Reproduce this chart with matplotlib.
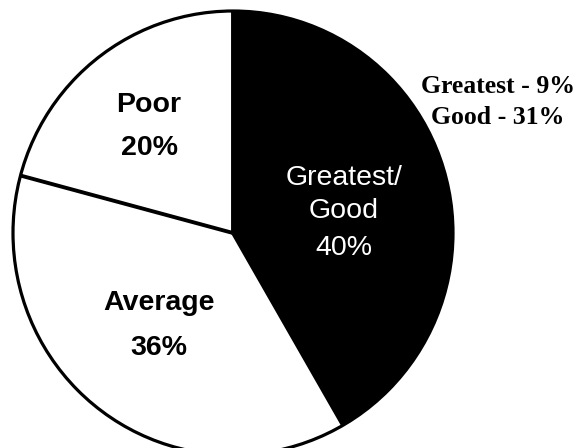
import numpy as np
import matplotlib
matplotlib.use("Agg")
import matplotlib.pyplot as plt
from matplotlib.patches import Circle

# Data (clockwise from 12 o'clock)
categories = ["Greatest/\nGood", "Average", "Poor"]
values = [40, 36, 20]
colors = ["black", "white", "white"]
text_colors = ["white", "black", "black"]
breakdown_labels = ["Greatest", "Good"]
breakdown_values = [9, 31]

W, H = 578, 448
fig = plt.figure(figsize=(W / 100, H / 100), dpi=100)
cx, cy, rx, ry = 233, 233, 220, 222
ax = fig.add_axes([(cx - rx) / W, (H - cy - ry) / H, 2 * rx / W, 2 * ry / H])
ax.pie(values, colors=colors, startangle=90, counterclock=False,
       wedgeprops=dict(edgecolor="none", linewidth=0))
ax.set_aspect("auto")
ax.set_xlim(-1, 1)
ax.set_ylim(-1, 1)
ax.axis("off")

# outline and radial lines
ax.add_patch(Circle((0, 0), 1, fill=False, edgecolor="black", lw=2.3, clip_on=False))
bounds = np.concatenate([[0], np.cumsum(values)[:-1]])
for b in bounds:
    ang = np.deg2rad(90 - 360 * b / sum(values))
    ax.plot([0, np.cos(ang)], [0, np.sin(ang)], color="black", lw=2.8,
            solid_capstyle="butt", clip_on=False)

def px(x, y):
    return ((x - cx) / rx, (cy - y) / ry)

font = ["Liberation Sans", "DejaVu Sans"]
# Greatest/Good label
lines = ["Greatest/", "Good", f"{values[0]}%"]
for t, yy in zip(lines, [185, 218, 255]):
    ax.text(*px(344, yy), t, color=text_colors[0], fontsize=20.5,
            family=font, ha="center", va="baseline")
# Average
for t, yy in zip([categories[1], f"{values[1]}%"], [310, 355]):
    ax.text(*px(159, yy), t, color=text_colors[1], fontsize=20.5,
            family=font, fontweight="bold", ha="center", va="baseline")
# Poor
for t, yy in zip([categories[2], f"{values[2]}%"], [112, 155]):
    ax.text(*px(149, yy), t, color=text_colors[2], fontsize=20.5,
            family=font, fontweight="bold", ha="center", va="baseline")

# breakdown annotation
for lab, v, yy in zip(breakdown_labels, breakdown_values, [93, 124]):
    fig.text(498 / W, 1 - yy / H, f"{lab} - {v}%", fontsize=18.5,
             family=["Liberation Serif", "DejaVu Serif"], fontweight="bold",
             ha="center", va="baseline")

fig.savefig("out.png", dpi=100)
